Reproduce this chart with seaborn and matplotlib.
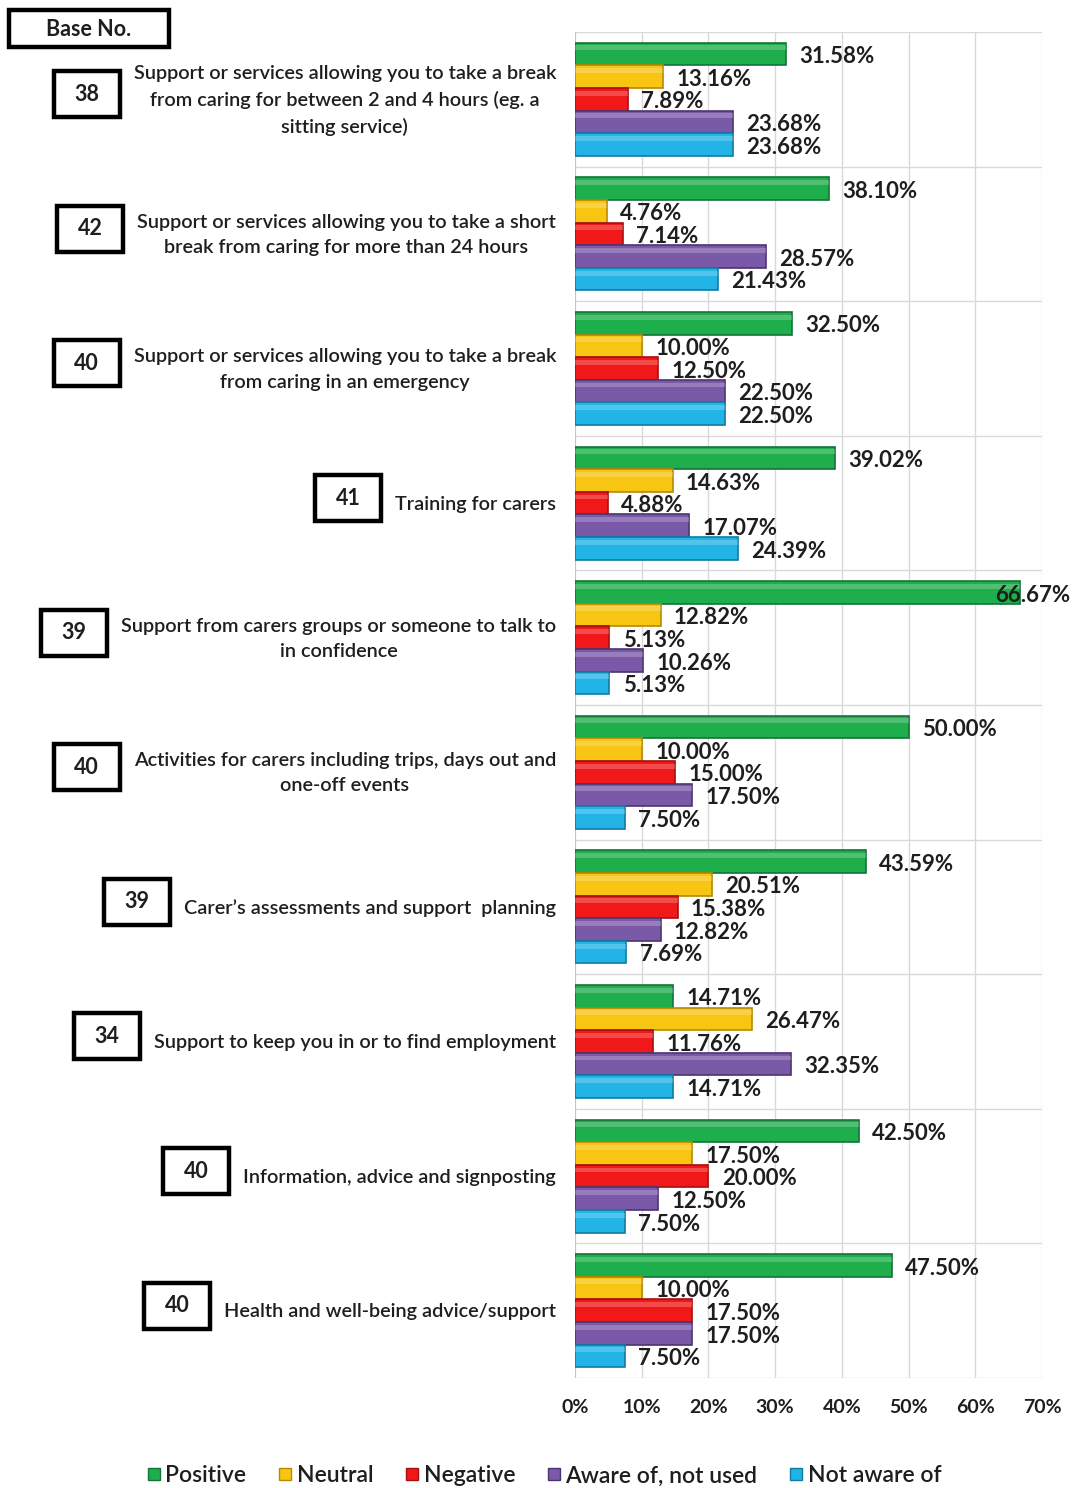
import matplotlib
matplotlib.use("Agg")
import matplotlib.pyplot as plt
from matplotlib.patches import Rectangle
from matplotlib.lines import Line2D
import seaborn as sns
import pandas as pd

services = [
    "Support or services allowing you to take a break\nfrom caring for between 2 and 4 hours (eg. a\nsitting service)",
    "Support or services allowing you to take a short\nbreak from caring for more than 24 hours",
    "Support or services allowing you to take a break\nfrom caring in an emergency",
    "Training for carers",
    "Support from carers groups or someone to talk to\nin confidence",
    "Activities for carers including trips, days out and\none-off events",
    "Carer\u2019s assessments and support  planning",
    "Support to keep you in or to find employment",
    "Information, advice and signposting",
    "Health and well-being advice/support",
]
base_no = [38, 42, 40, 41, 39, 40, 39, 34, 40, 40]
responses = ["Positive", "Neutral", "Negative", "Aware of, not used", "Not aware of"]

positive = [31.58, 38.10, 32.50, 39.02, 66.67, 50.00, 43.59, 14.71, 42.50, 47.50]
neutral = [13.16, 4.76, 10.00, 14.63, 12.82, 10.00, 20.51, 26.47, 17.50, 10.00]
negative = [7.89, 7.14, 12.50, 4.88, 5.13, 15.00, 15.38, 11.76, 20.00, 17.50]
aware_not_used = [23.68, 28.57, 22.50, 17.07, 10.26, 17.50, 12.82, 32.35, 12.50, 17.50]
not_aware = [23.68, 21.43, 22.50, 24.39, 5.13, 7.50, 7.69, 14.71, 7.50, 7.50]

x_ticks = [0, 10, 20, 30, 40, 50, 60, 70]
x_tick_labels = ["0%", "10%", "20%", "30%", "40%", "50%", "60%", "70%"]

colors = ["#1fae4c", "#f7c512", "#f01818", "#7a59a8", "#22b4e6"]
edges = ["#13733a", "#b88a00", "#a80f0f", "#4c3570", "#127ba3"]

series = [positive, neutral, negative, aware_not_used, not_aware]
rows = []
for resp, vals in zip(responses, series):
    for svc, v in zip(services, vals):
        rows.append({"Service": svc, "Response": resp, "Percent": v})
df = pd.DataFrame(rows)

sns.set_theme(style="white")
plt.rcParams["font.family"] = ["Lato", "DejaVu Sans"]
TEXT = "#1e1e1e"

W, H = 1072, 1488
fig = plt.figure(figsize=(W / 100, H / 100), dpi=100)
ax = fig.add_axes([575 / W, 1 - 1378 / H, (1042 - 575) / W, (1378 - 32) / H])

sns.barplot(data=df, y="Service", x="Percent", hue="Response", order=services,
            hue_order=responses, palette=colors, orient="h", width=0.84,
            ax=ax, legend=False, saturation=1)

for cont, ec in zip(ax.containers, edges):
    for bar in cont:
        bar.set_edgecolor(ec)
        bar.set_linewidth(1.2)
        # light sheen along the top of each bar
        bx, by, bw, bh = bar.get_x(), bar.get_y(), bar.get_width(), bar.get_height()
        ax.add_patch(Rectangle((bx, by + bh * 0.12), bw, bh * 0.22,
                               facecolor="white", alpha=0.22, lw=0, zorder=bar.get_zorder() + 0.1))

ax.set_xlim(0, 70)
ax.set_ylim(len(services) - 0.5, -0.5)
ax.set_xticks(x_ticks)
ax.set_xticklabels(x_tick_labels, fontsize=14, fontweight="bold", color=TEXT)
ax.tick_params(axis="x", length=0, pad=15)
ax.set_yticks([])
ax.set_xlabel("")
ax.set_ylabel("")

# grid: vertical lines at ticks, horizontal lines between groups
for xv in x_ticks:
    ax.axvline(xv, color="#d9d9d9", lw=1, zorder=0)
for i in range(len(services) + 1):
    ax.axhline(i - 0.5, color="#d9d9d9", lw=1, zorder=0)
for s in ax.spines.values():
    s.set_visible(False)
ax.axvline(0, color="#bfbfbf", lw=1.2, zorder=0.5)

# value labels
for cont, vals in zip(ax.containers, series):
    for bar, v in zip(cont, vals):
        yc = bar.get_y() + bar.get_height() / 2
        xl = min(v + 2.0, 62.9)
        ax.text(xl, yc + 0.02, f"{v:.2f}%", va="center", ha="left", fontsize=16,
                fontweight="bold", color=TEXT, zorder=5)

# category labels
labels = []
for i, svc in enumerate(services):
    t = ax.annotate(svc, xy=(0, i), xycoords=("axes fraction", "data"),
                    xytext=(-19, -1), textcoords="offset pixels",
                    ha="right", va="center", multialignment="center",
                    fontsize=14.3, fontweight="semibold", color=TEXT, linespacing=1.58)
    labels.append(t)

fig.canvas.draw()
inv = fig.transFigure.inverted()
for i, t in enumerate(labels):
    bb = t.get_window_extent()
    yc = ax.transData.transform((0, i))[1] + 5
    right = bb.x0 - 14
    left = right - 66
    (fx0, fy0) = inv.transform((left, yc - 23))
    (fx1, fy1) = inv.transform((right, yc + 23))
    fig.add_artist(Rectangle((fx0, fy0), fx1 - fx0, fy1 - fy0, transform=fig.transFigure,
                             facecolor="white", edgecolor="black", lw=3.2))
    fig.text((fx0 + fx1) / 2, (fy0 + fy1) / 2, str(base_no[i]), ha="center", va="center",
             fontsize=15.5, fontweight="bold", color=TEXT)

# header box
fig.add_artist(Rectangle((9 / W, 1 - 47 / H), 160 / W, 37 / H, transform=fig.transFigure,
                         facecolor="white", edgecolor="black", lw=3.2))
fig.text(89 / W, 1 - 29 / H, "Base No.", ha="center", va="center", fontsize=15.5,
         fontweight="bold", color=TEXT)

# legend
handles = [Line2D([0], [0], marker="s", linestyle="none", markersize=9,
                  markerfacecolor=c, markeredgecolor=e) for c, e in zip(colors, edges)]
fig.legend(handles, responses, loc="center", bbox_to_anchor=(543 / W, 1 - 1476 / H),
           ncol=5, frameon=False, handletextpad=0.1, columnspacing=1.3,
           handlelength=0.8, labelcolor=TEXT, prop={"weight": "semibold", "size": 16.5})

fig.savefig("out.png", dpi=100, facecolor="white")
